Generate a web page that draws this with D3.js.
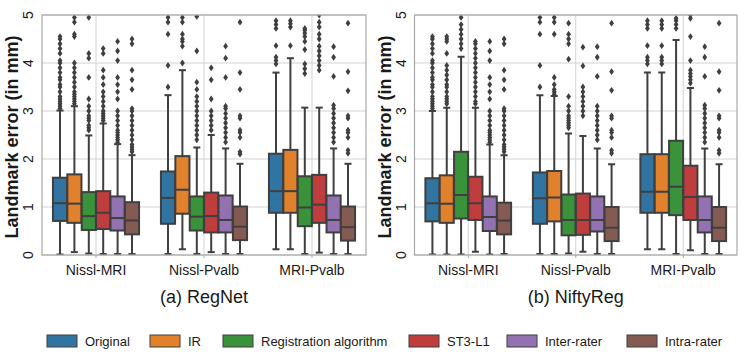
<!DOCTYPE html>
<html><head><meta charset="utf-8">
<script src="https://cdn.jsdelivr.net/npm/d3@7"></script>
<style>body{margin:0;background:#fff} svg{display:block} text{font-family:"Liberation Sans",Arial,sans-serif;fill:#1a1a1a}</style>
</head><body><svg id="c" width="747" height="361"></svg>
<script>
const categories = ["Nissl-MRI","Nissl-Pvalb","MRI-Pvalb"];
const methods = ["Original","IR","Registration algorithm","ST3-L1","Inter-rater","Intra-rater"];
const colors = ["#3274a1","#e1812c","#3a923a","#c03d3e","#9372b2","#845b53"];
const yTicks = [0,1,2,3,4,5];
const panelTitles = ["(a) RegNet","(b) NiftyReg"];
const yLabel = "Landmark error (in mm)";

// RegNet: rows = categories, columns = methods
const regnetLow    = [[0.01,0.06,0.03,0.02,0.02,0.02],[0.02,0.12,0.02,0.06,0.02,0.02],[0.12,0.12,0.02,0.05,0.02,0.02]];
const regnetQ1     = [[0.71,0.67,0.52,0.54,0.51,0.43],[0.65,0.86,0.51,0.47,0.47,0.31],[0.88,0.88,0.60,0.67,0.47,0.30]];
const regnetMedian = [[1.08,1.07,0.81,0.88,0.77,0.72],[1.19,1.36,0.80,0.81,0.73,0.59],[1.33,1.33,0.99,1.05,0.73,0.58]];
const regnetQ3     = [[1.61,1.68,1.31,1.33,1.22,1.10],[1.74,2.06,1.22,1.30,1.24,1.01],[2.11,2.19,1.64,1.67,1.24,1.01]];
const regnetHigh   = [[3.01,3.10,2.49,2.74,2.31,2.08],[3.33,3.85,2.24,2.50,2.22,1.90],[3.80,4.10,3.07,3.07,2.22,1.90]];
const regnetOutliers = [
  [[3.05,3.1,3.15,3.2,3.25,3.3,3.4,3.5,3.55,3.65,3.7,3.8,3.9,4.0,4.05,4.2,4.3,4.4,4.5,4.55],
   [3.15,3.2,3.25,3.3,3.35,3.4,3.5,3.6,3.7,3.8,3.9,4.0,4.55,4.6,4.85,4.95],
   [2.6,2.65,2.7,2.8,2.85,2.9,3.0,3.1,3.25,3.7,4.1,4.2,4.95],
   [2.8,2.85,2.9,2.95,3.0,3.1,3.2,3.3,3.4,3.55,3.7,3.85,4.2,4.3],
   [2.35,2.4,2.45,2.5,2.55,2.6,2.7,2.8,2.9,3.0,3.25,3.4,3.55,3.7,4.05,4.25,4.45],
   [2.15,2.2,2.25,2.3,2.4,2.5,2.6,2.7,2.8,2.9,3.0,3.05,3.45,3.65,3.85,4.4,4.5]],
  [[3.5,3.95,4.6,4.85,4.95],
   [4.0,4.35,4.45,4.5,4.6,4.85,4.95],
   [2.4,2.5,2.6,2.7,2.8,2.9,3.0,3.1,3.2,3.3,3.45,3.6,4.25,4.97],
   [2.6,2.7,2.8,2.9,3.0,3.25,3.65,3.9],
   [2.35,2.45,2.55,2.65,2.75,2.85,2.95,3.05,3.1,3.7,4.1,4.35],
   [2.1,2.15,2.45,2.55,2.6,2.85,2.9,3.45,3.8,4.85]],
  [[3.98,4.05,4.12,4.36,4.72,4.8,4.88],
   [4.36,4.75,4.82,4.88],
   [3.78,3.88,3.98,4.28,4.45,4.55,4.62,4.68,4.72],
   [3.85,3.95,4.05,4.15,4.25,4.35,4.5,4.6,4.75,4.85,5.0],
   [2.35,2.45,2.55,2.65,2.75,2.85,2.95,3.05,3.12,3.72,4.12,4.34],
   [2.12,2.18,2.45,2.55,2.6,2.85,2.9,3.42,3.82,4.83]]
];

// NiftyReg
const niftyLow    = [[0.01,0.01,0.01,0.07,0.01,0.02],[0.02,0.02,0.03,0.07,0.02,0.02],[0.12,0.12,0.02,0.10,0.02,0.02]];
const niftyQ1     = [[0.70,0.67,0.76,0.73,0.50,0.43],[0.65,0.70,0.41,0.42,0.49,0.29],[0.88,0.88,0.83,0.73,0.47,0.29]];
const niftyMedian = [[1.08,1.07,1.25,1.08,0.79,0.72],[1.18,1.20,0.73,0.73,0.73,0.57],[1.32,1.32,1.42,1.21,0.73,0.57]];
const niftyQ3     = [[1.60,1.66,2.15,1.63,1.22,1.09],[1.72,1.75,1.26,1.28,1.22,1.00],[2.10,2.10,2.38,1.86,1.22,1.00]];
const niftyHigh   = [[3.00,3.07,4.13,3.07,2.30,2.08],[3.33,3.31,2.53,2.48,2.22,1.89],[3.80,3.80,4.48,3.48,2.22,1.89]];
const niftyOutliers = [
  [[3.05,3.1,3.15,3.2,3.25,3.3,3.4,3.5,3.55,3.65,3.7,3.8,3.9,4.0,4.05,4.2,4.3,4.4,4.5,4.55],
   [3.15,3.2,3.25,3.3,3.4,3.5,3.55,3.65,3.75,3.85,3.95,4.2,4.45,4.5,4.55],
   [4.3,4.4,4.5,4.6,4.7,4.8,4.95],
   [3.15,3.2,3.3,3.4,3.5,3.6,3.7,3.8,3.9,4.0,4.1,4.2,4.3,4.4,4.45],
   [2.35,2.4,2.45,2.5,2.55,2.6,2.7,2.8,2.9,3.0,3.25,3.4,3.55,3.7,4.05,4.25,4.45],
   [2.15,2.2,2.25,2.3,2.4,2.5,2.6,2.7,2.8,2.9,3.0,3.05,3.45,3.65,3.85,4.4,4.5]],
  [[3.5,3.95,4.6,4.85,4.95],
   [3.35,3.4,3.45,3.55,3.7,4.6,4.85,4.95],
   [2.65,2.7,2.75,2.8,2.85,2.9,3.0,3.1,3.3,4.08,4.4,4.5,4.6,4.83],
   [2.9,3.0,3.1,3.2,3.3,3.4,3.5,3.94,4.33],
   [2.4,2.5,2.6,2.7,2.8,2.9,3.0,3.1,3.72,4.12,4.34],
   [2.12,2.18,2.45,2.55,2.6,2.85,2.9,3.43,3.82,4.83]],
  [[3.98,4.05,4.12,4.36,4.72,4.8,4.88],
   [3.98,4.05,4.12,4.36,4.72,4.8,4.88],
   [4.72,4.8,4.88,4.93],
   [3.58,3.65,3.72,3.78,3.85,4.05,4.55,4.93,5.0],
   [2.35,2.45,2.55,2.65,2.75,2.85,2.95,3.05,3.12,3.72,4.12,4.34],
   [2.12,2.18,2.45,2.55,2.6,2.85,2.9,3.43,3.82,4.83]]
];

const panels = [
  {title: panelTitles[0], lo: regnetLow, q1: regnetQ1, med: regnetMedian, q3: regnetQ3, hi: regnetHigh, out: regnetOutliers},
  {title: panelTitles[1], lo: niftyLow, q1: niftyQ1, med: niftyMedian, q3: niftyQ3, hi: niftyHigh, out: niftyOutliers}
];

const svg = d3.select("#c");
const defs = svg.append("defs");
const plotTop = 15, plotBottom = 255;
const panelRanges = [[42, 366], [414.5, 737]];
const edge = "#3f3f3f";
const y = d3.scaleLinear().domain([0, 5]).range([plotBottom, plotTop]);
const diamond = "M0,-3.4L2.4,0L0,3.4L-2.4,0Z";

panels.forEach((p, pi) => {
  const [x0, x1] = panelRanges[pi];
  const x = d3.scaleBand().domain(categories).range([x0, x1]);
  const hue = d3.scaleBand().domain(methods).range([0, x.bandwidth() * 0.8]);
  const bw = hue.bandwidth() * 0.98;
  const g = svg.append("g");
  const clipId = "clip" + pi;
  defs.append("clipPath").attr("id", clipId).append("rect")
    .attr("x", x0).attr("y", plotTop).attr("width", x1 - x0).attr("height", plotBottom - plotTop);

  // grid
  g.selectAll(".hg").data(yTicks).join("line")
    .attr("x1", x0).attr("x2", x1).attr("y1", d => y(d)).attr("y2", d => y(d))
    .attr("stroke", "#d2d2d2").attr("stroke-width", 1);
  g.selectAll(".vg").data(categories).join("line")
    .attr("x1", d => x(d) + x.bandwidth() / 2).attr("x2", d => x(d) + x.bandwidth() / 2)
    .attr("y1", plotTop).attr("y2", plotBottom)
    .attr("stroke", "#d2d2d2").attr("stroke-width", 1);

  const plot = g.append("g").attr("clip-path", `url(#${clipId})`);
  categories.forEach((c, ci) => {
    methods.forEach((m, mi) => {
      const cx = x(c) + x.bandwidth() * 0.1 + hue(m) + hue.bandwidth() / 2;
      const bg = plot.append("g");
      bg.append("line").attr("x1", cx).attr("x2", cx).attr("y1", y(p.q1[ci][mi])).attr("y2", y(p.lo[ci][mi]))
        .attr("stroke", edge).attr("stroke-width", 2);
      bg.append("line").attr("x1", cx).attr("x2", cx).attr("y1", y(p.q3[ci][mi])).attr("y2", y(p.hi[ci][mi]))
        .attr("stroke", edge).attr("stroke-width", 2);
      [p.lo[ci][mi], p.hi[ci][mi]].forEach(v => {
        bg.append("line").attr("x1", cx - bw / 4).attr("x2", cx + bw / 4).attr("y1", y(v)).attr("y2", y(v))
          .attr("stroke", edge).attr("stroke-width", 2);
      });
      bg.append("rect").attr("x", cx - bw / 2).attr("width", bw)
        .attr("y", y(p.q3[ci][mi])).attr("height", y(p.q1[ci][mi]) - y(p.q3[ci][mi]))
        .attr("fill", colors[mi]).attr("stroke", edge).attr("stroke-width", 2);
      bg.append("line").attr("x1", cx - bw / 2).attr("x2", cx + bw / 2)
        .attr("y1", y(p.med[ci][mi])).attr("y2", y(p.med[ci][mi]))
        .attr("stroke", edge).attr("stroke-width", 2);
      bg.selectAll("path").data(p.out[ci][mi]).join("path")
        .attr("d", diamond).attr("transform", d => `translate(${cx},${y(d)})`)
        .attr("fill", edge);
    });
  });

  // frame
  g.append("rect").attr("x", x0).attr("y", plotTop).attr("width", x1 - x0).attr("height", plotBottom - plotTop)
    .attr("fill", "none").attr("stroke", "#a8a8a8").attr("stroke-width", 1.2);

  categories.forEach(c => {
    const cx = x(c) + x.bandwidth() / 2;
    g.append("line").attr("x1", cx).attr("x2", cx).attr("y1", plotBottom).attr("y2", plotBottom + 3)
      .attr("stroke", "#a8a8a8");
    g.append("text").attr("x", cx).attr("y", plotBottom + 20).attr("text-anchor", "middle")
      .attr("font-size", 14).text(c);
  });
  yTicks.forEach(t => {
    g.append("text").attr("transform", `translate(${x0 - 9},${y(t)}) rotate(-90)`)
      .attr("text-anchor", "middle").attr("font-size", 14).text(t);
  });
  g.append("text").attr("transform", `translate(${x0 - 24},${(plotTop + plotBottom) / 2 + 2}) rotate(-90)`)
    .attr("text-anchor", "middle").attr("font-size", 18).attr("font-weight", "bold").text(yLabel);
  g.append("text").attr("x", (x0 + x1) / 2).attr("y", 303).attr("text-anchor", "middle")
    .attr("font-size", 18).text(p.title);
});

const legendX = [47, 150, 223, 409, 507, 627];
const lg = svg.append("g");
methods.forEach((m, i) => {
  lg.append("rect").attr("x", legendX[i]).attr("y", 335).attr("width", 30).attr("height", 12)
    .attr("fill", colors[i]).attr("stroke", edge).attr("stroke-width", 1);
  lg.append("text").attr("x", legendX[i] + 38).attr("y", 346).attr("font-size", 13).text(m);
});
</script></body></html>
